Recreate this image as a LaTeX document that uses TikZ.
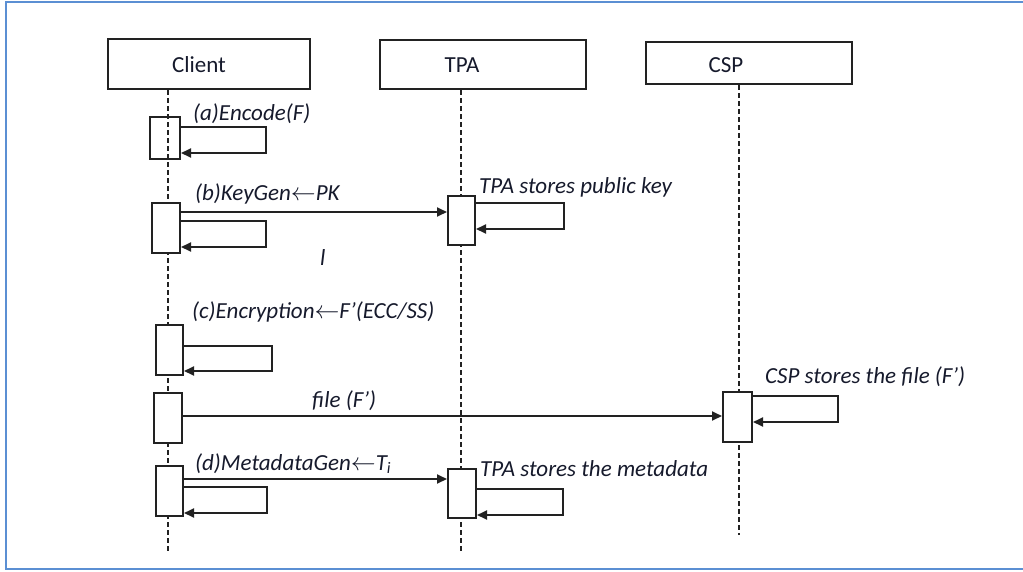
\documentclass[tikz,border=0pt]{standalone}
\usepackage{fontspec}
\setmainfont{Carlito}
\usetikzlibrary{arrows.meta, positioning, calc}

\definecolor{framebl}{HTML}{5B8FD3}
\definecolor{txt}{HTML}{161A2C}
\definecolor{ln}{HTML}{222222}

\tikzset{
  head/.style={draw=ln, line width=2.2pt, inner sep=0pt},
  headtxt/.style={font=\fontsize{23}{27}\selectfont, text=txt, anchor=base, inner sep=0pt},
  act/.style={draw=ln, line width=2pt, fill=white, inner sep=0pt, minimum width=28pt, minimum height=50pt},
  life/.style={ln, line width=1.8pt, dash pattern=on 5pt off 3pt},
  msg/.style={ln, line width=1.8pt, -{Triangle[length=10pt,width=9pt]}},
  lbl/.style={font=\itshape\fontsize{23}{27}\selectfont, text=txt, anchor=base west, inner sep=0pt},
}

\begin{document}
\begin{tikzpicture}[x=1pt, y=-1pt]
  \useasboundingbox (0,0) rectangle (1023,571);
  \draw[framebl, line width=2pt] (1023,2) -- (6,2) -- (6,569) -- (1023,569);

  % Lifeline heads
  \node[head, minimum width=202pt, minimum height=50pt] (client) at (209,64) {};
  \node[head, minimum width=206pt, minimum height=49pt] (tpa) at (483,64.5) {};
  \node[head, minimum width=206pt, minimum height=42pt] (csp) at (749,63) {};
  \node[headtxt] (clientTxt) at (199,72) {Client};
  \node[headtxt] (tpaTxt) at (462,72) {TPA};
  \node[headtxt] (cspTxt) at (726,72) {CSP};

  % Lifelines
  \coordinate (clEnd) at (168,552);
  \coordinate (tpEnd) at (461,552);
  \coordinate (csEnd) at (739,535);
  \draw[life] (client.south -| clEnd) -- (clEnd);
  \draw[life] (tpa.south -| tpEnd) -- (tpEnd);
  \draw[life] (csp.south -| csEnd) -- (csEnd);

  % Activations
  \node[act, fill=none, minimum width=30pt, minimum height=42pt] (a1) at (165,138) {};
  \node[act] (b1) at (166,228) {};
  \node[act, minimum width=27pt, minimum height=49pt] (b2) at (461.5,220.5) {};
  \node[act, minimum width=27pt] (c1) at (169.5,350) {};
  \node[act] (f1) at (168,418) {};
  \node[act, minimum width=29pt] (f2) at (737.5,417) {};
  \node[act, minimum width=27pt] (d1) at (169.5,491) {};
  \node[act, minimum height=49pt] (d2) at (462,493.5) {};

  % (a) encode
  \draw[msg] (a1.east |- 0,127) -- (266,127) -- (266,153) -- (a1.east |- 0,153);
  \node[lbl] (aLbl) at (193,120) {(a)Encode(F)};

  % (b) key generation
  \draw[msg] (b1.east |- 0,212) -- (b2.west |- 0,212);
  \draw[msg] (b1.east |- 0,221) -- (266,221) -- (266,247) -- (b1.east |- 0,247);
  \draw[msg] (b2.east |- 0,203) -- (564,203) -- (564,229) -- (b2.east |- 0,229);
  \node[lbl] (bLbl) at (195,200) {(b)KeyGen$\leftarrow$PK};
  \node[lbl] (bTpa) at (479,193) {TPA stores public key};
  \node[lbl] (stray) at (320,265) {l};

  % (c) encryption
  \draw[msg] (c1.east |- 0,346) -- (272,346) -- (272,371) -- (c1.east |- 0,371);
  \node[lbl] (cLbl) at (192,318) {(c)Encryption$\leftarrow$F'(ECC/SS)};

  % file to CSP
  \draw[msg] (f1.east |- 0,416) -- (f2.west |- 0,416);
  \draw[msg] (f2.east |- 0,396) -- (838,396) -- (838,422) -- (f2.east |- 0,422);
  \node[lbl] (fLbl) at (312,407) {file (F’)};
  \node[lbl] (fCsp) at (765,383) {CSP stores the file (F’)};

  % (d) metadata
  \draw[msg] (d1.east |- 0,479) -- (d2.west |- 0,479);
  \draw[msg] (d1.east |- 0,487) -- (267,487) -- (267,513) -- (d1.east |- 0,513);
  \draw[msg] (d2.east |- 0,489) -- (563,489) -- (563,515) -- (d2.east |- 0,515);
  \node[lbl] (dLbl) at (195,470) {(d)MetadataGen$\leftarrow$T\textsubscript{i}};
  \node[lbl] (dTpa) at (480,476) {TPA stores the metadata};
\end{tikzpicture}
\end{document}
